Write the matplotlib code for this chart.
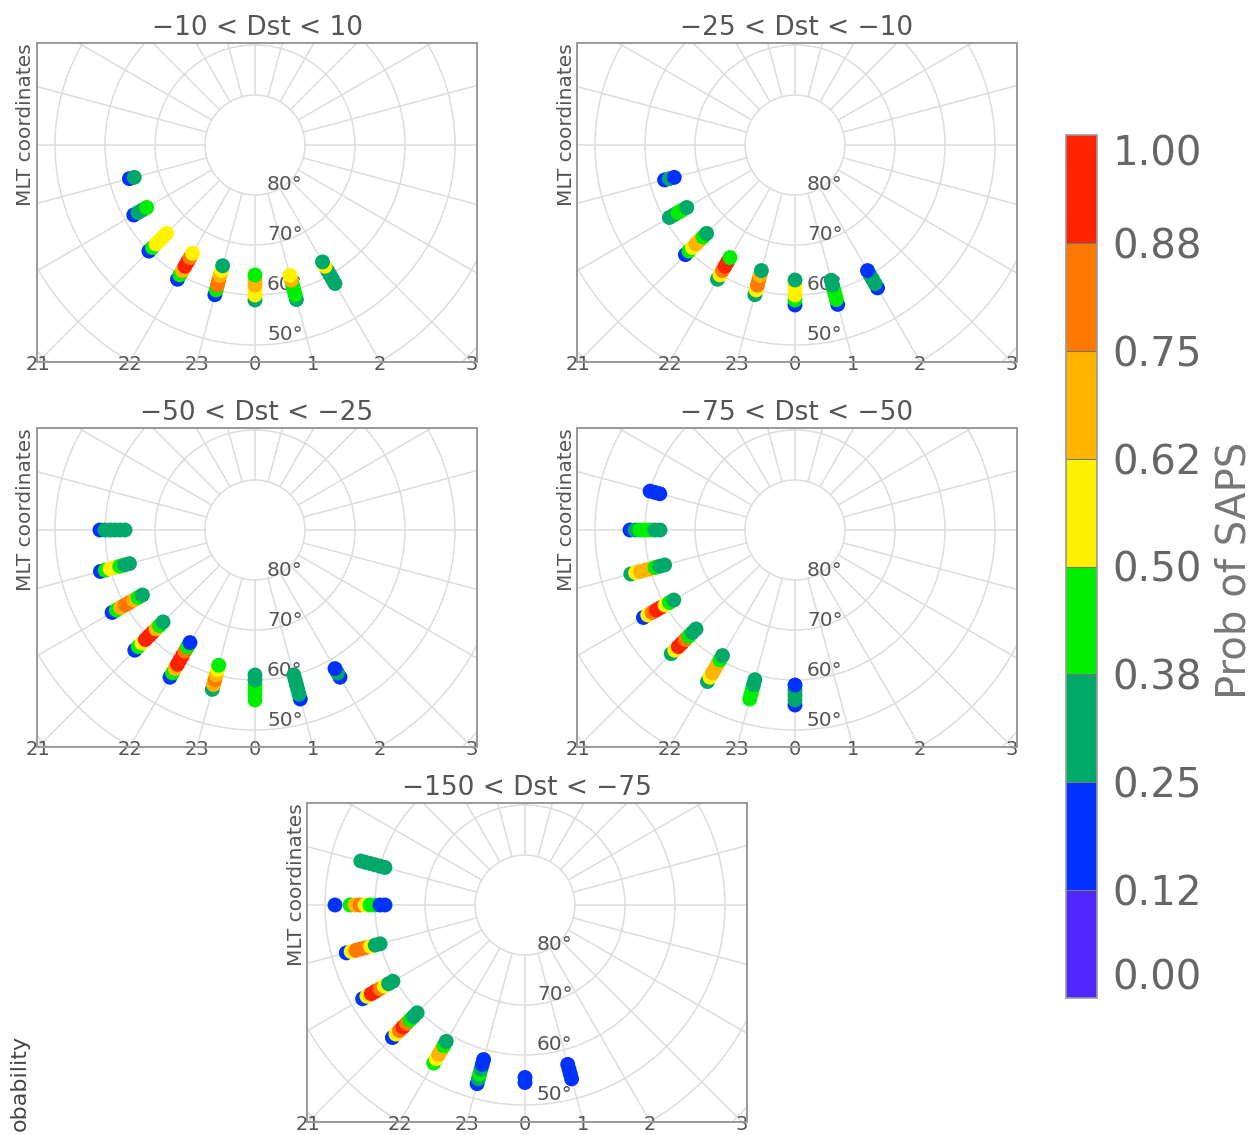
import numpy as np
import matplotlib
matplotlib.use("Agg")
import matplotlib.pyplot as plt
from matplotlib.colors import ListedColormap, BoundaryNorm
from matplotlib.cm import ScalarMappable
from matplotlib.patches import Circle

nan = np.nan

# probability colour scale
band_colors = ["#5028ff", "#0032ff", "#00a86a", "#00ee00",
               "#fff200", "#ffb400", "#ff7800", "#ff2200"]
band_edges = [0.0, 0.125, 0.25, 0.375, 0.5, 0.625, 0.75, 0.875, 1.0]
band_labels = ["0.00", "0.12", "0.25", "0.38", "0.50", "0.62", "0.75", "0.88", "1.00"]

titles = ["\u221210 < Dst < 10", "\u221225 < Dst < \u221210", "\u221250 < Dst < \u221225",
          "\u221275 < Dst < \u221250", "\u2212150 < Dst < \u221275"]

mlt_ticks = [21, 22, 23, 0, 1, 2, 3]
lat_labels = [80, 70, 60, 50]

# each streak: MLT hour, lowest latitude (1 deg steps), probability per latitude bin
p1_mlt = [19, 20, 21, 22, 23, 0, 1, 2]
p1_lat0 = [64, 62, 60, 59, 59, 59, 58, 58]
p1_prob = [
    [0.19, 0.31],
    [0.19, 0.31, 0.31, 0.44],
    [0.19, 0.44, 0.56, 0.56, 0.56, 0.56],
    [0.19, 0.44, 0.69, 0.94, 0.94, 0.81, 0.56],
    [0.19, 0.44, 0.81, 0.81, 0.69, 0.56, 0.31],
    [0.31, 0.56, 0.56, 0.69, 0.69, 0.44],
    [0.31, 0.44, 0.44, 0.44, 0.69, 0.56],
    [0.31, 0.31, 0.31, 0.31, 0.56, 0.31],
]

p2_mlt = [19, 20, 21, 22, 23, 0, 1, 2]
p2_lat0 = [63, 61, 59, 59, 59, 58, 57, 57]
p2_prob = [
    [0.19, 0.31, 0.19],
    [0.31, 0.31, 0.44, 0.44, 0.31],
    [0.19, 0.44, 0.56, 0.69, 0.69, 0.44, 0.31],
    [0.31, 0.56, 0.81, 0.94, 0.94, 0.44],
    [0.31, 0.56, 0.81, 0.81, 0.69, 0.31],
    [0.19, 0.44, 0.56, 0.56, 0.56, 0.31],
    [0.19, 0.44, 0.44, 0.44, 0.31, 0.31],
    [0.19, 0.31, 0.31, 0.31, 0.19],
]

p3_mlt = [18, 19, 20, 21, 22, 23, 0, 1, 2]
p3_lat0 = [59, 58, 57, 56, 56, 57, 56, 55, 56]
p3_prob = [
    [0.19, 0.31, 0.31, 0.31, 0.31, 0.31],
    [0.19, 0.44, 0.56, 0.56, 0.44, 0.31, 0.31],
    [0.19, 0.44, 0.69, 0.81, 0.81, 0.69, 0.44, 0.31],
    [0.19, 0.44, 0.56, 0.94, 0.94, 0.94, 0.69, 0.44, 0.31],
    [0.19, 0.44, 0.69, 0.94, 0.94, 0.94, 0.81, 0.44, 0.19],
    [0.31, 0.69, 0.81, 0.69, 0.56, 0.44],
    [0.44, 0.44, 0.44, 0.44, 0.31, 0.31],
    [0.19, 0.31, 0.31, 0.31, 0.31, 0.31],
    [0.19, 0.31, 0.19],
]

p4_mlt = [17, 18, 19, 20, 21, 22, 23, 0]
p4_lat0 = [60, 57, 56, 55, 55, 55, 55, 55]
p4_prob = [
    [0.19, 0.19, 0.19],
    [0.19, 0.31, 0.44, 0.44, 0.44, 0.31, 0.31],
    [0.31, 0.56, 0.69, 0.69, 0.69, 0.44, 0.31, 0.31],
    [0.19, 0.56, 0.81, 0.94, 0.94, 0.56, 0.44, 0.31],
    [0.31, 0.56, 0.94, 0.94, 0.81, 0.44, 0.31, 0.31],
    [0.31, 0.56, 0.69, 0.69, 0.69, 0.44, 0.31],
    [0.44, 0.44, 0.44, 0.31, 0.31],
    [0.19, 0.31, 0.31, 0.31, 0.19],
]

p5_mlt = [17, 18, 19, 20, 21, 22, 23, 0, 1]
p5_lat0 = [56, 52, 53, 52.5, 52.5, 53.5, 53, 54.5, 54]
p5_prob = [
    [0.31, 0.31, 0.31, 0.31, 0.31, 0.31],
    [0.19, nan, nan, 0.44, 0.69, 0.81, 0.56, 0.44, 0.44, 0.19, 0.19],
    [0.19, 0.56, 0.81, 0.81, 0.81, 0.56, 0.31, 0.31],
    [0.19, 0.56, 0.94, 0.94, 0.81, 0.56, 0.31, 0.31],
    [0.19, 0.56, 0.81, 0.94, 0.81, 0.44, 0.31, 0.31],
    [0.44, 0.56, 0.69, 0.69, 0.44, 0.31],
    [0.19, 0.31, 0.44, 0.31, 0.19, 0.19],
    [0.19, 0.19],
    [0.19, 0.19, 0.19, 0.19],
]

panels = [(p1_mlt, p1_lat0, p1_prob), (p2_mlt, p2_lat0, p2_prob),
          (p3_mlt, p3_lat0, p3_prob), (p4_mlt, p4_lat0, p4_prob),
          (p5_mlt, p5_lat0, p5_prob)]

# axes boxes in pixels (left, top, right, bottom)
W, H = 1255, 1135
boxes = [(37, 43, 477, 362), (577, 43, 1017, 362),
         (37, 428, 477, 747), (577, 428, 1017, 747),
         (307, 803, 747, 1122)]

cmap = ListedColormap(band_colors)
norm = BoundaryNorm(band_edges, cmap.N)

XMIN, XMAX, YMIN, YMAX = -43.6, 44.4, -43.4, 20.4
grid_c = "#dddddd"
text_c = "#555555"


def to_xy(mlt, colat):
    th = np.deg2rad(np.asarray(mlt) * 15.0)
    return colat * np.sin(th), -colat * np.cos(th)


fig = plt.figure(figsize=(W / 100, H / 100), dpi=100)

for k in range(5):
    l, t, r, b = boxes[k]
    ax = fig.add_axes([l / W, 1 - b / H, (r - l) / W, (b - t) / H])
    ax.set_xlim(XMIN, XMAX)
    ax.set_ylim(YMIN, YMAX)

    # grid: latitude circles and hourly MLT lines
    for colat in range(10, 70, 10):
        ax.add_patch(Circle((0, 0), colat, fill=False, ec=grid_c, lw=1.1, zorder=1))
    for h in range(24):
        x0, y0 = to_xy(h, 10)
        x1, y1 = to_xy(h, 90)
        ax.plot([x0, x1], [y0, y1], color=grid_c, lw=1.1, zorder=1)

    for lat in lat_labels:
        ax.text(2.4, -(90 - lat) + 2, f"{lat}\u00b0", fontsize=14.5, color=text_c,
                ha="left", va="center", zorder=2)

    mlts, lat0s, probs = panels[k]
    for m, l0, pr in zip(mlts, lat0s, probs):
        pr = np.array(pr, dtype=float)
        lats = l0 + np.arange(len(pr))
        ok = ~np.isnan(pr)
        x, y = to_xy(m, 90 - lats[ok])
        ax.scatter(x, y, c=pr[ok], cmap=cmap, norm=norm, s=115, lw=0, zorder=3)

    ticks_x = [-YMIN * np.tan(np.deg2rad((m if m < 12 else m - 24) * 15)) for m in mlt_ticks]
    ax.set_xticks(ticks_x)
    ax.set_xticklabels([str(m) for m in mlt_ticks])
    ax.tick_params(axis="x", length=0, pad=-5, labelsize=14, labelcolor=text_c)
    ax.set_yticks([])
    for s in ax.spines.values():
        s.set_color("#999999")
        s.set_linewidth(1.4)

    ax.set_title(titles[k], fontsize=19, color=text_c, pad=6)
    ax.text(-0.025, 1.0, "MLT coordinates", rotation=90, transform=ax.transAxes,
            ha="center", va="top", fontsize=14.5, color=text_c)

# colour bar
cax = fig.add_axes([1066 / W, 1 - 998 / H, 31 / W, 863 / H])
sm = ScalarMappable(norm=norm, cmap=cmap)
cb = fig.colorbar(sm, cax=cax, ticks=band_edges, drawedges=True)
cb.outline.set_edgecolor("#999999")
cb.outline.set_linewidth(1.2)
cb.dividers.set_color("#777777")
cb.dividers.set_linewidth(0.8)
cb.set_ticklabels(band_labels)
cax.tick_params(length=0, pad=11, labelsize=29, labelcolor="#666666")
labs = cax.get_yticklabels()
labs[0].set_va("bottom")
labs[-1].set_va("top")
fig.text(1234 / W, 1 - 570 / H, "Prob of SAPS", rotation=90, fontsize=29,
         color="#777777", ha="center", va="center")

# visible part of a label from the neighbouring figure
fig.text(20 / W, 1 - 1035 / H, "obability", rotation=90, fontsize=16,
         color="#444444", ha="center", va="top")

fig.savefig("out.png", dpi=100)
